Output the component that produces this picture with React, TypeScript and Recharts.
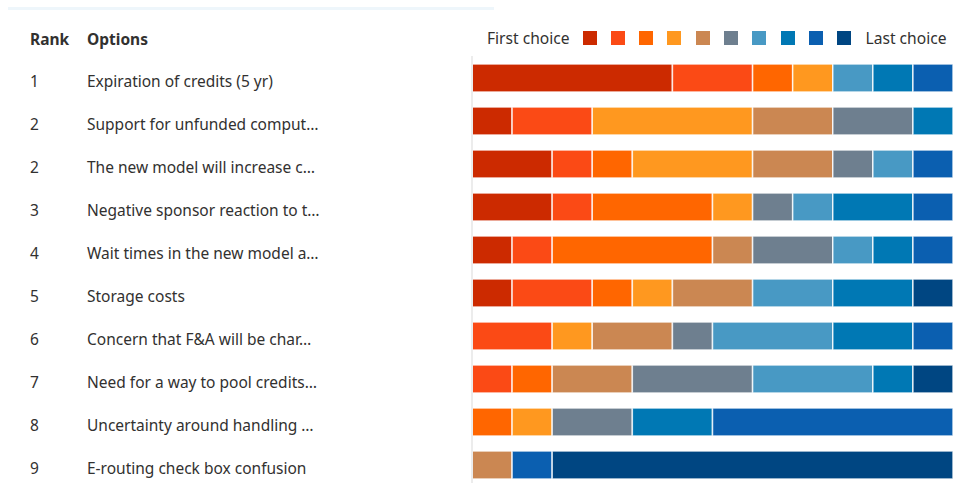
import { Bar, BarChart, XAxis, YAxis } from "recharts";

const ranks = ["1", "2", "2", "3", "4", "5", "6", "7", "8", "9"];
const options = [
  "Expiration of credits (5 yr)",
  "Support for unfunded comput…",
  "The new model will increase c…",
  "Negative sponsor reaction to t…",
  "Wait times in the new model a…",
  "Storage costs",
  "Concern that F&A will be char…",
  "Need for a way to pool credits…",
  "Uncertainty around handling …",
  "E-routing check box confusion",
];

// votes per choice position (first choice -> last choice), one value per option row
const choice1 = [5, 1, 2, 2, 1, 1, 0, 0, 0, 0];
const choice2 = [2, 2, 1, 1, 1, 2, 2, 1, 0, 0];
const choice3 = [1, 0, 1, 3, 4, 1, 0, 1, 1, 0];
const choice4 = [1, 4, 3, 1, 0, 1, 1, 0, 1, 0];
const choice5 = [0, 2, 2, 0, 1, 2, 2, 2, 0, 1];
const choice6 = [0, 2, 1, 1, 2, 0, 1, 3, 2, 0];
const choice7 = [1, 0, 1, 1, 1, 2, 3, 3, 0, 0];
const choice8 = [1, 1, 0, 2, 1, 2, 2, 1, 2, 0];
const choice9 = [1, 0, 1, 1, 1, 0, 1, 0, 6, 1];
const choice10 = [0, 0, 0, 0, 0, 1, 0, 1, 0, 10];

const choices = [choice1, choice2, choice3, choice4, choice5, choice6, choice7, choice8, choice9, choice10];
const colors = [
  "#cc2a00",
  "#fb4a15",
  "#ff6600",
  "#ff981f",
  "#cb8752",
  "#6e7f8f",
  "#4899c4",
  "#0078b4",
  "#0b5fb0",
  "#004682",
];

const font = "'Noto Sans', 'Open Sans', sans-serif";
const textColor = "#323130";

const data = options.map((option, i) => {
  const row: Record<string, string | number> = { key: String(i), rank: ranks[i], option };
  choices.forEach((values, c) => {
    row[`c${c + 1}`] = values[i];
  });
  return row;
});

function RowTick(props: any) {
  const { y, payload } = props;
  const row = data[Number(payload.value)];
  return (
    <g>
      <text x={30} y={y} dy={9.5} fill={textColor} fontSize={15.5} fontFamily={font}>
        {row.rank}
      </text>
      <text x={87} y={y} dy={9.5} fill={textColor} fontSize={15.5} fontFamily={font}>
        {row.option}
      </text>
    </g>
  );
}

function ChoiceLegend() {
  return (
    <div
      style={{
        position: "absolute",
        left: 487,
        top: 27,
        display: "flex",
        alignItems: "center",
        fontFamily: font,
        fontSize: 15.6,
        color: textColor,
        whiteSpace: "nowrap",
      }}
    >
      <span style={{ marginRight: 13 }}>First choice</span>
      {colors.map((color) => (
        <span
          key={color}
          style={{ width: 14, height: 14, background: color, marginRight: 14.3, display: "inline-block" }}
        />
      ))}
      <span>Last choice</span>
    </div>
  );
}

export default function App() {
  return (
    <div
      style={{
        position: "fixed",
        left: 0,
        top: 0,
        width: 953,
        height: 483,
        overflow: "hidden",
        background: "#fff",
      }}
    >
      <div style={{ position: "absolute", left: 8, top: 7, width: 486, height: 3, background: "#eef6fb" }} />
      <div
        style={{
          position: "absolute",
          left: 30,
          top: 28,
          fontFamily: font,
          fontSize: 15.5,
          fontWeight: 700,
          color: textColor,
          whiteSpace: "nowrap",
        }}
      >
        <span>Rank</span>
        <span style={{ position: "absolute", left: 57 }}>Options</span>
      </div>
      <ChoiceLegend />
      <div style={{ position: "absolute", left: 0, top: 0 }}>
        <BarChart
          width={953}
          height={490}
          data={data}
          layout="vertical"
          margin={{ top: 56, right: 0, bottom: 4, left: 0 }}
          barSize={28}
        >
          <XAxis type="number" domain={[0, 12]} hide />
          <YAxis
            type="category"
            dataKey="key"
            width={472}
            tick={<RowTick />}
            axisLine={{ stroke: "#ececec", strokeWidth: 2 }}
            tickLine={false}
            interval={0}
          />
          {colors.map((color, c) => (
            <Bar
              key={color}
              dataKey={`c${c + 1}`}
              stackId="rank"
              fill={color}
              stroke="#fff"
              strokeOpacity={0.8}
              strokeWidth={1.5}
              isAnimationActive={false}
            />
          ))}
        </BarChart>
      </div>
    </div>
  );
}
